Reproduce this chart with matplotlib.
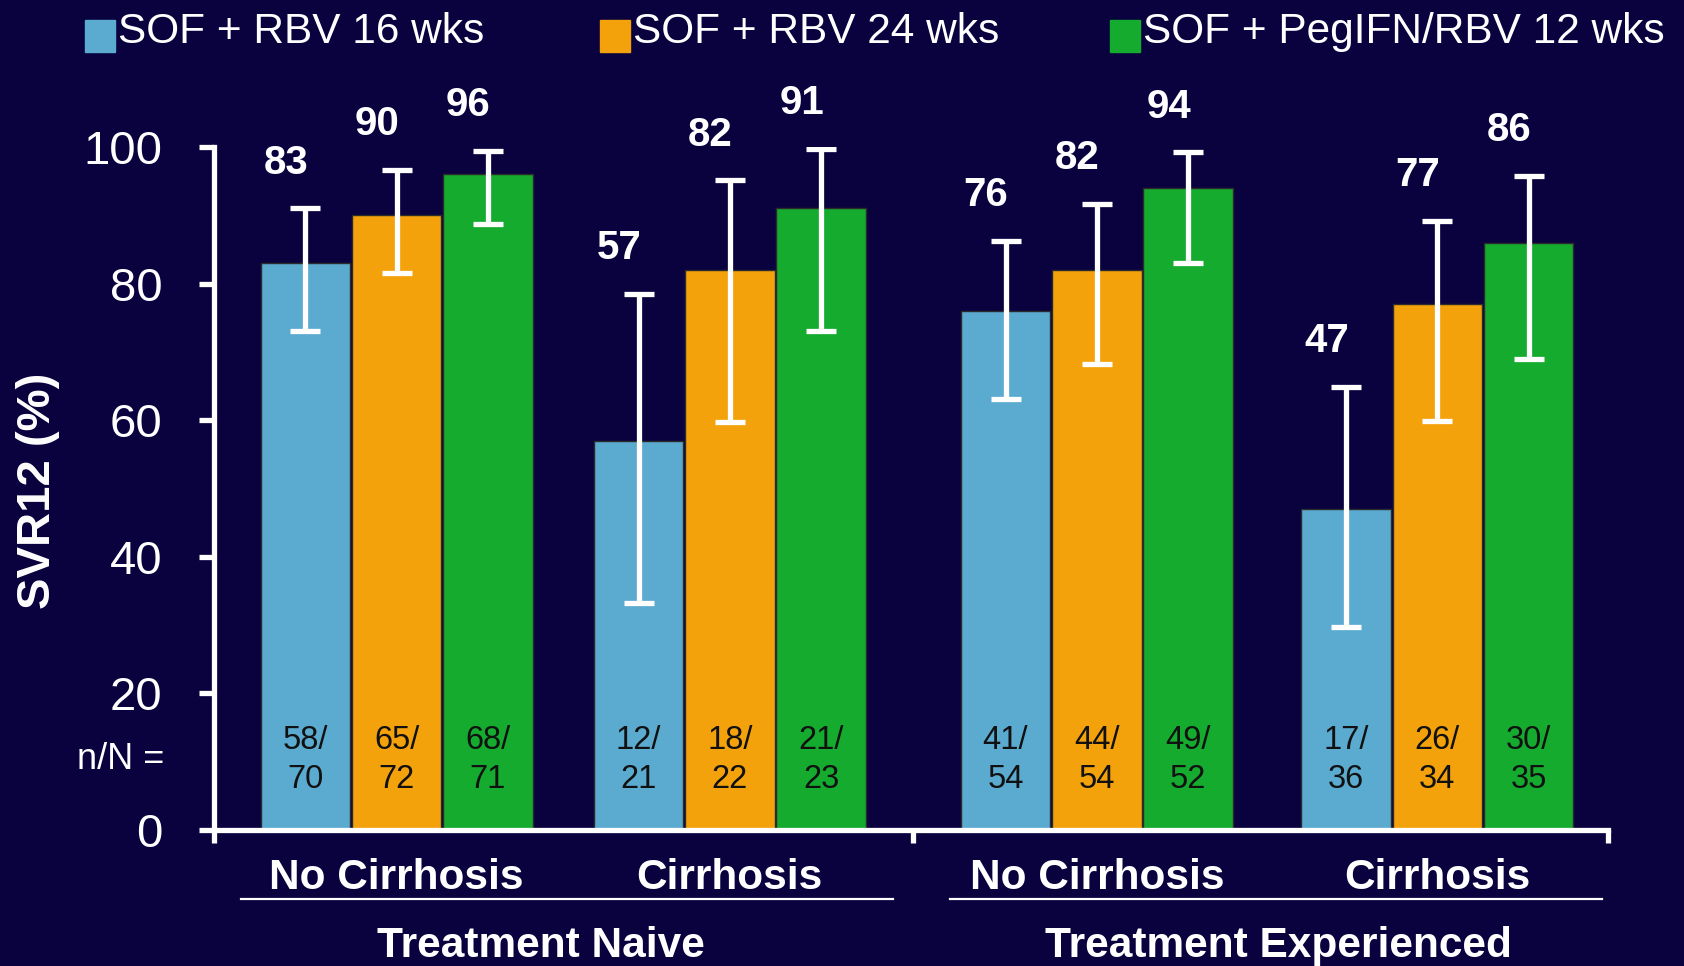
import numpy as np
import matplotlib.pyplot as plt
from matplotlib.patches import Rectangle

plt.rcParams['font.family'] = ['Liberation Sans', 'DejaVu Sans']

# ----------------------------------------------------------------------------------------------------------------------
# data
# ----------------------------------------------------------------------------------------------------------------------

regimens = ['SOF + RBV 16 wks', 'SOF + RBV 24 wks', 'SOF + PegIFN/RBV 12 wks']
subgroups = ['No Cirrhosis', 'Cirrhosis', 'No Cirrhosis', 'Cirrhosis']
populations = ['Treatment Naive', 'Treatment Experienced']

# SVR12 (%) per subgroup
svr_16 = [83, 57, 76, 47]
svr_24 = [90, 82, 82, 77]
svr_peg = [96, 91, 94, 86]

# 95% CI
ci_lo_16 = [73.0, 33.3, 63.1, 29.7]
ci_hi_16 = [91.0, 78.5, 86.3, 64.9]
ci_lo_24 = [81.6, 59.7, 68.2, 59.9]
ci_hi_24 = [96.7, 95.1, 91.7, 89.2]
ci_lo_peg = [88.7, 73.0, 83.0, 69.0]
ci_hi_peg = [99.4, 99.7, 99.2, 95.8]

# n/N
n_16 = [58, 12, 41, 17]
N_16 = [70, 21, 54, 36]
n_24 = [65, 18, 44, 26]
N_24 = [72, 22, 54, 34]
n_peg = [68, 21, 49, 30]
N_peg = [71, 23, 52, 35]

yticks = [0, 20, 40, 60, 80, 100]

# ----------------------------------------------------------------------------------------------------------------------
# layout / style
# ----------------------------------------------------------------------------------------------------------------------

bg = '#0a013f'
colors = ['#5BAAD0', '#F4A20B', '#14AB2E']
group_x = np.array([2.0, 5.65, 9.67, 13.4])
offsets = [-1.0, 0.0, 1.0]
x_max = 15.27
split_x = 7.66

fig = plt.figure(figsize=(16.84, 9.66), dpi=100, facecolor=bg)
ax = fig.add_axes([0.1271, 0.1408, 0.8278, 0.707])
ax.set_facecolor(bg)

series = [
    (svr_16, ci_lo_16, ci_hi_16, n_16, N_16),
    (svr_24, ci_lo_24, ci_hi_24, n_24, N_24),
    (svr_peg, ci_lo_peg, ci_hi_peg, n_peg, N_peg),
]

for k, (vals, lo, hi, n, N) in enumerate(series):
    vals = np.array(vals, dtype=float)
    lo = np.array(lo)
    hi = np.array(hi)
    xs = group_x + offsets[k]
    ax.bar(xs, vals, width=0.98, color=colors[k], edgecolor='#2b2b2b', linewidth=1, zorder=2)
    ax.errorbar(xs, vals, yerr=[vals - lo, hi - vals], fmt='none', ecolor='white',
                elinewidth=3.8, capsize=11, capthick=3.8, zorder=3)
    for i in range(len(xs)):
        ax.annotate(str(int(vals[i])), xy=(xs[i], hi[i]), xytext=(-14, 33), textcoords='offset points',
                    ha='center', va='center', fontsize=29, fontweight='bold', color='white')
        ax.text(xs[i], 10.2, f'{n[i]}/\n{N[i]}', ha='center', va='center', fontsize=23.5,
                color='#111111', linespacing=1.32, zorder=4)

ax.text(-0.55, 10.3, 'n/N =', ha='right', va='center', fontsize=26, color='white')

# axes
ax.set_xlim(0, x_max)
ax.set_ylim(0, 100)
for side in ['top', 'right']:
    ax.spines[side].set_visible(False)
for side in ['left', 'bottom']:
    ax.spines[side].set_color('white')
    ax.spines[side].set_linewidth(3.8)
ax.set_yticks(yticks)
ax.tick_params(axis='y', colors='white', labelsize=34, length=11, width=3.8, pad=26)
ax.set_xticks([0, split_x, x_max])
ax.set_xticklabels([])
ax.tick_params(axis='x', colors='white', length=9, width=3.8)

ax.text(-0.126, 0.497, 'SVR12 (%)', transform=ax.transAxes, rotation=90, ha='center', va='center',
        fontsize=34, fontweight='bold', color='white')

# category labels under the axis
trans = ax.get_xaxis_transform()
for i, label in enumerate(subgroups):
    ax.text(group_x[i], -0.071, label, transform=trans, ha='center', va='center',
            fontsize=30.5, fontweight='bold', color='white')
for x0, x1 in [(0.29, 7.44), (8.06, 15.2)]:
    ax.plot([x0, x1], [-0.1006, -0.1006], transform=trans, color='white', lw=1.6, clip_on=False)
for x, label in zip([3.58, 11.66], populations):
    ax.text(x, -0.17, label, transform=trans, ha='center', va='center',
            fontsize=30.5, fontweight='bold', color='white')

# legend across the top
key_x = [85, 600, 1110]
for k, label in enumerate(regimens):
    fig.add_artist(Rectangle((key_x[k] / 1684, 1 - 52 / 966), 30 / 1684, 32 / 966,
                             transform=fig.transFigure, color=colors[k]))
    fig.text((key_x[k] + 33) / 1684, 1 - 43 / 966, label, ha='left', va='baseline',
             fontsize=30.5, color='white')

fig.savefig('out.png', facecolor=bg)
